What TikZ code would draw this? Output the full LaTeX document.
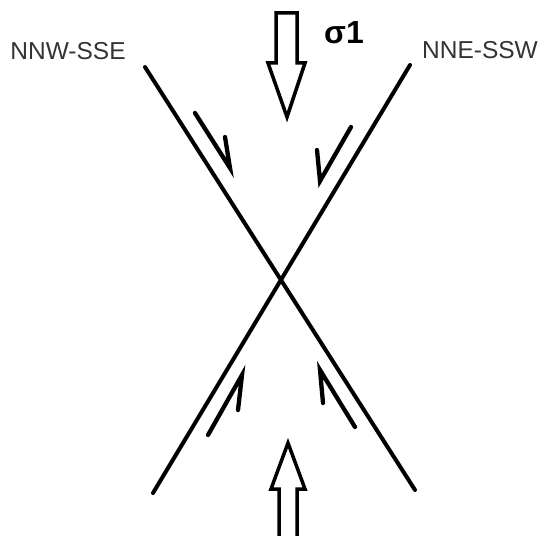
\documentclass[tikz,border=0pt]{standalone}
\usepackage{fontspec}
\setmainfont{Liberation Sans}
\begin{document}
\begin{tikzpicture}[x=1pt,y=-1pt,
  fault/.style={line width=4pt,line cap=round},
  harpoon/.style={line width=4.3pt,line cap=round,line join=miter},
  blockarrow/.style={draw,line width=3.5pt,fill=white,line join=miter},
  dirlabel/.style={text=black!80,font=\fontsize{24.5}{28}\selectfont,inner sep=0pt},
  sigmalabel/.style={font=\bfseries\fontsize{32}{35}\selectfont,inner sep=0pt}]
\useasboundingbox (0,0) rectangle (543,535);
% labels
\node[dirlabel] (lw) at (68,51) {NNW-SSE};
\node[dirlabel] (le) at (480,50) {NNE-SSW};
\node[sigmalabel] (sig) at (344,33) {σ1};
% fault lines
\coordinate (a1) at (145,67);
\coordinate (a2) at (415,490);
\coordinate (b1) at (410,65);
\coordinate (b2) at (153,493);
\draw[fault] (a1) -- (a2);
\draw[fault] (b1) -- (b2);
% shear sense half-arrows
\coordinate (tls) at (195,113); \coordinate (tlt) at (230,168); \coordinate (tlb) at (225,137);
\coordinate (trs) at (351,127); \coordinate (trt) at (320,181); \coordinate (trb) at (317,150);
\coordinate (bls) at (208,435); \coordinate (blt) at (242,375); \coordinate (blb) at (238,410);
\coordinate (brs) at (355,427); \coordinate (brt) at (320,370); \coordinate (brb) at (323,403);
\draw[harpoon] (tls) -- (tlt) -- (tlb);
\draw[harpoon] (trs) -- (trt) -- (trb);
\draw[harpoon] (bls) -- (blt) -- (blb);
\draw[harpoon] (brs) -- (brt) -- (brb);
% block arrows (sigma 1)
\draw[blockarrow] (276,13) -- (297,13) -- (297,63) -- (305,63) -- (287,117)
  -- (268,63) -- (276,63) -- cycle;
\draw[blockarrow] (279,540) -- (297,540) -- (297,489) -- (305,489) -- (288,443)
  -- (271,489) -- (279,489) -- cycle;
\end{tikzpicture}
\end{document}
